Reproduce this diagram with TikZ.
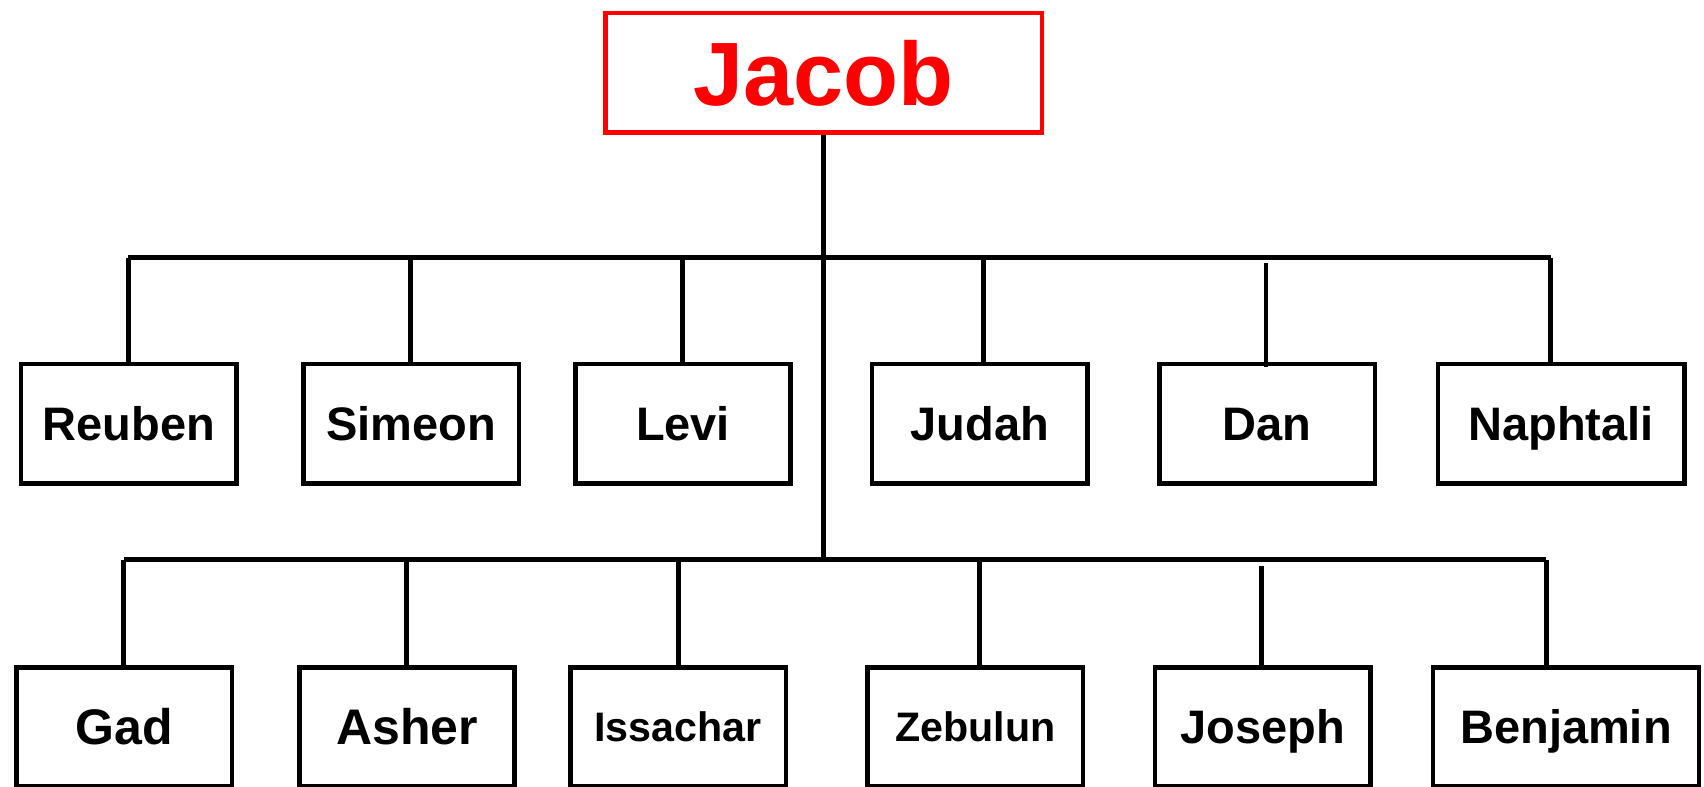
\documentclass[tikz,border=0pt]{standalone}
\usepackage{fontspec}
\setmainfont{Liberation Sans}
\usetikzlibrary{calc}
\begin{document}
\begin{tikzpicture}[x=0.5434pt,y=-0.5434pt,
  boxbase/.style={draw=black,line width=2.3pt,rectangle,minimum width=107.7pt,minimum height=59.7pt,inner sep=0pt,text depth=0pt},
  kidA/.style={boxbase,font=\bfseries\fontsize{23.5}{26}\selectfont,text height=16.8pt},
  kidB/.style={boxbase,font=\bfseries\fontsize{25}{27}\selectfont,text height=17.9pt},
  kidC/.style={boxbase,font=\bfseries\fontsize{20.6}{24}\selectfont,text height=14.8pt},
  link/.style={line width=2.4pt,draw=black}]
\useasboundingbox (0,0) rectangle (1568,724);
\clip (0,0) rectangle (1568,724);
% top node
\node[draw=red,line width=2.2pt,minimum width=218.4pt,minimum height=59.8pt,inner sep=0pt,
      text=red,font=\bfseries\fontsize{45}{50}\selectfont,text height=32.2pt,text depth=0pt]
      (jacob) at (758,67) {Jacob};
% first row
\node[kidA] (reuben) at (118.5,390) {Reuben};
\node[kidA] (simeon) at (378.5,390) {Simeon};
\node[kidA] (levi) at (628.5,390) {Levi};
\node[kidA] (judah) at (901.5,390) {Judah};
\node[kidA] (dan) at (1166,390) {Dan};
\node[kidA,minimum width=123.2pt] (naphtali) at (1436.5,390) {Naphtali};
% second row
\node[kidB] (gad) at (114.5,669) {Gad};
\node[kidB] (asher) at (374.5,669) {Asher};
\node[kidC] (issachar) at (624,669) {Issachar};
\node[kidC] (zebulun) at (897.5,669) {Zebulun};
\node[kidA] (joseph) at (1162,669) {Joseph};
\node[kidA,minimum width=133pt] (benjamin) at (1441,669) {Benjamin};
% trunk
\coordinate (trunkend) at (757,513);
\draw[link] (jacob.south) -- (jacob.south |- trunkend);
% upper bar and drops
\coordinate (u1) at (118,237);
\coordinate (u2) at (378,237);
\coordinate (u3) at (628,237);
\coordinate (u4) at (905,237);
\coordinate (u5) at (1165,242);
\coordinate (u6) at (1427,237);
\draw[link] (u1) -- (u6);
\draw[link] (u1) -- (u1 |- reuben.north);
\draw[link] (u2) -- (u2 |- simeon.north);
\draw[link] (u3) -- (u3 |- levi.north);
\draw[link] (u4) -- (u4 |- judah.north);
\draw[link] (u5) -- ($(u5 |- dan.north)+(0,5)$);
\draw[link] (u6) -- (u6 |- naphtali.north);
% lower bar and drops
\coordinate (l1) at (114,515);
\coordinate (l2) at (374,515);
\coordinate (l3) at (624,515);
\coordinate (l4) at (901,515);
\coordinate (l5) at (1161,521);
\coordinate (l6) at (1423,515);
\draw[link] (l1) -- (l6);
\draw[link] (l1) -- (l1 |- gad.north);
\draw[link] (l2) -- (l2 |- asher.north);
\draw[link] (l3) -- (l3 |- issachar.north);
\draw[link] (l4) -- (l4 |- zebulun.north);
\draw[link] (l5) -- ($(l5 |- joseph.north)+(0,5)$);
\draw[link] (l6) -- (l6 |- benjamin.north);
\end{tikzpicture}
\end{document}
